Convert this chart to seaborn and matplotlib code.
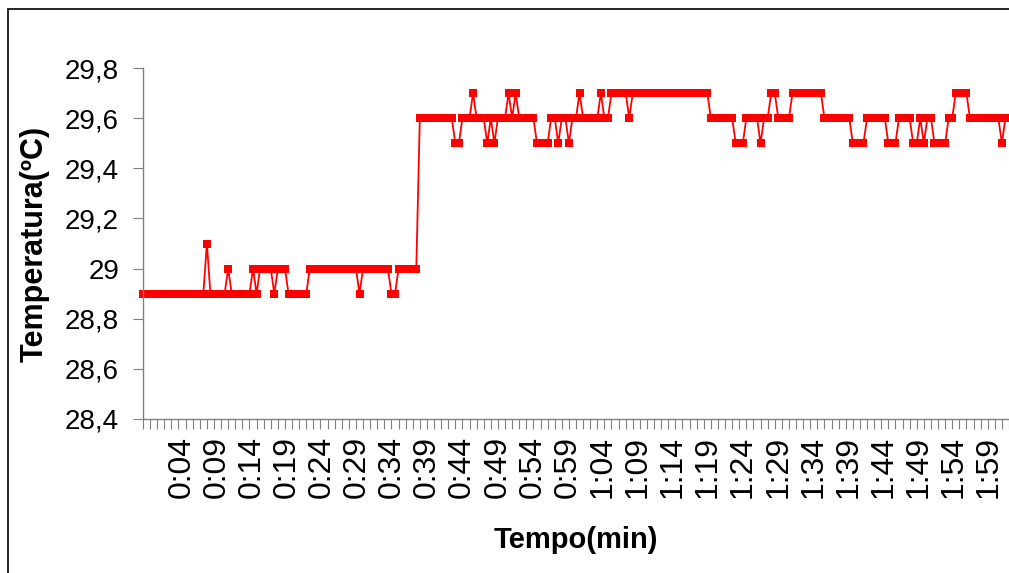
import numpy as np
import pandas as pd
import matplotlib
matplotlib.use("Agg")
import matplotlib.pyplot as plt
import seaborn as sns
from matplotlib.patches import Rectangle

# temperature readings as runs (value, number of consecutive samples)
run_temp = [28.9, 29.1, 28.9, 29.0, 28.9, 29.0, 28.9, 29.0, 28.9, 29.0,
            28.9, 29.0, 28.9, 29.0, 28.9, 29.0,
            29.6, 29.5, 29.6, 29.7, 29.6, 29.5, 29.6, 29.5, 29.6, 29.7,
            29.6, 29.7, 29.6, 29.5, 29.6, 29.5, 29.6, 29.5, 29.6, 29.7,
            29.6, 29.7, 29.6, 29.7, 29.6, 29.7, 29.6, 29.5, 29.6, 29.5,
            29.6, 29.7, 29.6, 29.7, 29.6, 29.5, 29.6, 29.5, 29.6, 29.5,
            29.6, 29.5, 29.6, 29.5, 29.6, 29.7, 29.6, 29.5, 29.6]
run_len = [18, 1, 5, 1, 6, 1, 1, 4, 1, 3,
           6, 14, 1, 8, 2, 6,
           10, 2, 3, 1, 3, 1, 1, 1, 3, 1,
           1, 1, 5, 4, 2, 1, 2, 1, 2, 1,
           5, 1, 2, 5, 1, 22, 7, 3, 4, 1,
           2, 2, 4, 9, 8, 4, 6, 3, 4, 2,
           1, 1, 2, 4, 2, 4, 9, 1, 1]

tick_labels = ["0:04", "0:09", "0:14", "0:19", "0:24", "0:29", "0:34", "0:39",
               "0:44", "0:49", "0:54", "0:59", "1:04", "1:09", "1:14", "1:19",
               "1:24", "1:29", "1:34", "1:39", "1:44", "1:49", "1:54", "1:59"]
y_ticks = [28.4, 28.6, 28.8, 29.0, 29.2, 29.4, 29.6, 29.8]
y_labels = ["28,4", "28,6", "28,8", "29", "29,2", "29,4", "29,6", "29,8"]

temps = np.repeat(run_temp, run_len)
df = pd.DataFrame({"amostra": np.arange(len(temps)), "temperatura": temps})

sns.set_style("white")
plt.rcParams["font.family"] = ["Liberation Sans", "DejaVu Sans"]
plt.rcParams["text.color"] = "black"
plt.rcParams["axes.labelcolor"] = "black"
plt.rcParams["xtick.labelcolor"] = "black"
plt.rcParams["ytick.labelcolor"] = "black"

fig = plt.figure(figsize=(10.09, 5.73), dpi=100)
ax = fig.add_axes([143 / 1009, 1 - 419 / 573, 1 - 143 / 1009, (419 - 68) / 573])

sns.lineplot(data=df, x="amostra", y="temperatura", ax=ax, color="#ff0000",
             linewidth=1.3, marker="s", markersize=5.5, markeredgewidth=0,
             clip_on=False)

ax.set_xlim(0, 866 / 3.555)
ax.set_ylim(28.4, 29.8)

# y axis
ax.set_yticks(y_ticks)
ax.set_yticklabels(y_labels, fontsize=20)
ax.tick_params(axis="y", direction="out", length=7.2, width=0.8,
               color="#808080", pad=10, left=True)

# x axis: small tick every two samples, label every ten
ax.set_xticks(np.arange(0, 246, 2), minor=True)
ax.set_xticks(np.linspace(10.8, 238.3, len(tick_labels)))
ax.set_xticklabels(tick_labels, rotation=90, fontsize=23)
ax.tick_params(axis="x", which="major", length=0, pad=12)
ax.tick_params(axis="x", which="minor", direction="out", length=7.2,
               width=0.8, color="#808080", bottom=True)

for side in ["top", "right"]:
    ax.spines[side].set_visible(False)
for side in ["left", "bottom"]:
    ax.spines[side].set_color("#808080")
    ax.spines[side].set_linewidth(1.0)

ax.set_xlabel("Tempo(min)", fontsize=21, fontweight="bold", va="center")
ax.xaxis.set_label_coords(0.5, -0.345)
ax.set_ylabel("Temperatura(ºC)", fontsize=22, fontweight="bold", va="center")
ax.yaxis.set_label_coords(-0.125, 0.5)

# chart frame
fig.patches.append(Rectangle((8 / 1009, -0.1), 1.2, 0.1 + (573 - 9) / 573,
                             transform=fig.transFigure, fill=False,
                             edgecolor="black", linewidth=1.2))

fig.savefig("out.png", dpi=100)
